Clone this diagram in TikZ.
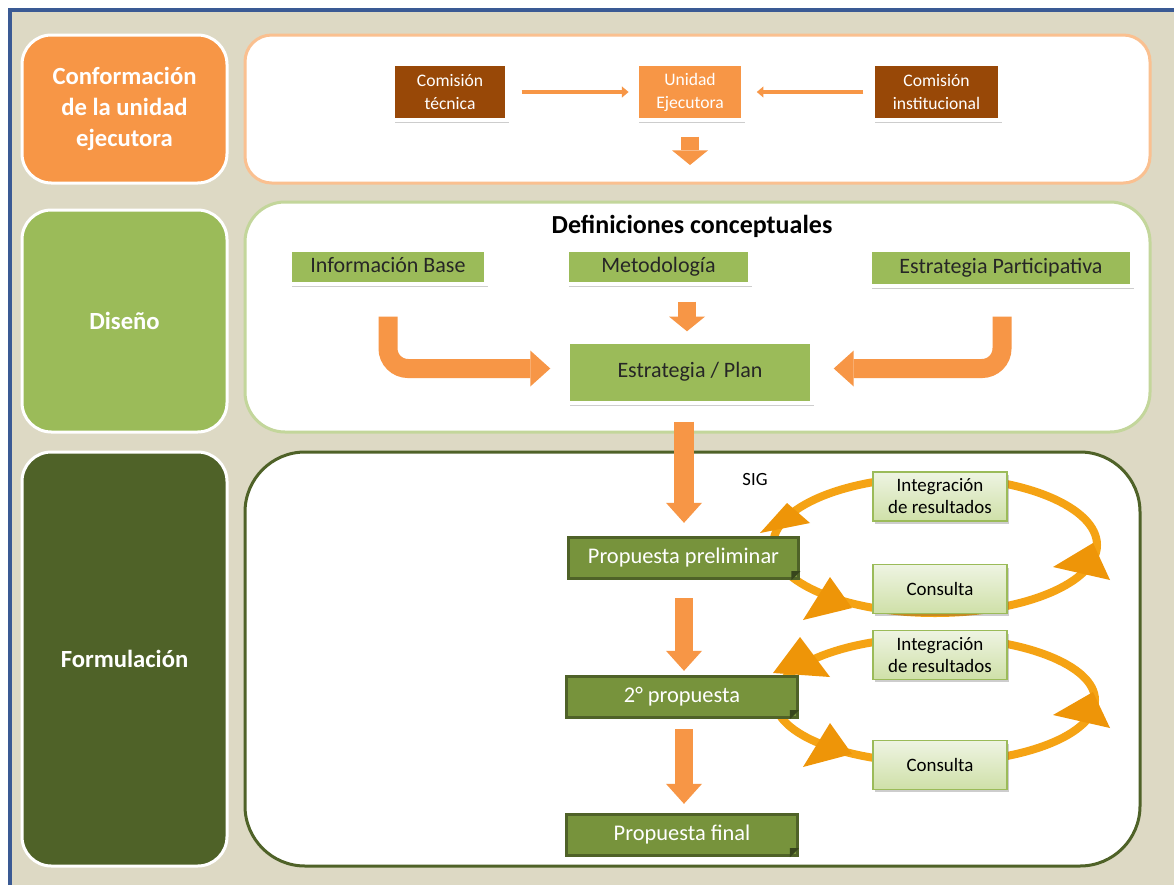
\documentclass[tikz,border=0pt]{standalone}
\usepackage{fontspec}
\setmainfont{Carlito}
\usetikzlibrary{arrows.meta,shadows,calc}
\definecolor{cbeige}{HTML}{DDD9C4}
\definecolor{cblue}{HTML}{3A5A94}
\definecolor{corange}{HTML}{F79646}
\definecolor{clorange}{HTML}{FAC090}
\definecolor{cbrown}{HTML}{984807}
\definecolor{cgreen}{HTML}{9BBB59}
\definecolor{clgreen}{HTML}{C3D69B}
\definecolor{cdark}{HTML}{4F6228}
\definecolor{colive}{HTML}{77933C}
\definecolor{ccyc}{HTML}{F5A314}
\definecolor{ccych}{HTML}{EE9508}
\definecolor{cpale}{HTML}{EEF4E2}
\definecolor{cpale2}{HTML}{CFE0A8}
\begin{document}
\begin{tikzpicture}[x=0.75pt,y=-0.75pt,
  lbl/.style={rounded corners=22pt, fill=#1, draw=white, line width=2.25pt, text=white,
    font=\fontsize{18.5}{23.25}\selectfont\bfseries, align=center,
    minimum width=153.75pt, inner sep=0pt},
  panel/.style={fill=white, draw=#1, line width=2.25pt},
  shad/.style={drop shadow={opacity=0.28, shadow xshift=1.2pt, shadow yshift=-2.2pt, fill=black!70}},
  topbox/.style={fill=#1, draw=white, line width=2.6pt, text=white, shad,
    font=\fontsize{13.2}{17.25}\selectfont, align=center, minimum height=42pt, inner sep=0pt},
  greenbox/.style={fill=cgreen, draw=white, line width=2.6pt, text=black!85, shad,
    font=\fontsize{16.5}{20}\selectfont, inner sep=0pt, text height=11pt, text depth=3.5pt},
  propbox/.style={fill=colive, draw=cdark, line width=2.25pt, text=white,
    font=\fontsize{16.8}{20}\selectfont, minimum width=173pt, minimum height=31pt, inner sep=0pt,
    text height=11pt, text depth=3.5pt},
  cycbox/.style={top color=cpale, bottom color=cpale2, draw=cgreen, line width=1.2pt, shad,
    font=\fontsize{14.2}{16.5}\selectfont, align=center, minimum width=100.5pt,
    minimum height=36.5pt, inner sep=0pt},
  thinarrow/.style={draw=corange, line width=3pt, -{Triangle[length=5pt,width=8pt]}},
  blockarrow/.style={draw=corange, line width=#1, -{Triangle[length=15pt,width=27pt,line width=0pt]}},
  smallarrow/.style={draw=corange, line width=#1, -{Triangle[length=11pt,width=27pt,line width=0pt]}},
  cycline/.style={draw=ccyc, line width=6pt},
  fold/.style={fill=cdark!70!black}
]
\useasboundingbox (0,0) rectangle (1174,885);
% background
\fill[white] (0,0) rectangle (1174,885);
\fill[cbeige] (10,10) rectangle (1174,885);
\draw[cblue, line width=2.5pt] (10,885) -- (10,10) -- (1174,10);

% left labels
\node[lbl=corange, minimum height=111pt] (l1) at (124.5,109) {Conformación\\de la unidad\\ejecutora};
\node[lbl=cgreen, minimum height=166.5pt] (l2) at (124.5,321) {Diseño};
\node[lbl=cdark, minimum height=310.5pt] (l3) at (124.5,659) {Formulación};

% right panels
\draw[panel=clorange, rounded corners=20pt] (245,35) rectangle (1150,183);
\draw[panel=clgreen, rounded corners=30pt] (245,202) rectangle (1150,432);
\draw[panel=cdark, rounded corners=45pt] (245,452) rectangle (1140,866);

% top panel
\node[topbox=cbrown, minimum width=85.5pt] (ct) at (450,92) {Comisión\\técnica};
\node[topbox=corange, minimum width=79.5pt] (ue) at (690,92) {Unidad\\Ejecutora};
\node[topbox=cbrown, minimum width=95.25pt] (ci) at (936.5,92) {Comisión\\institucional};
\draw[thinarrow, shorten <=9.75pt, shorten >=5pt] (ct) -- (ue);
\draw[thinarrow, shorten <=6pt, shorten >=9pt] (ci) -- (ue);
\coordinate (ueend) at (690,165);
\draw[smallarrow=13.5pt, shorten <=11.25pt] (ue.south) -- (ueend);

% middle panel
\node[font=\fontsize{19.5}{23}\selectfont\bfseries, text=black] (def) at (692,226) {Definiciones conceptuales};
\node[greenbox, minimum width=147pt, minimum height=25.5pt] (inf) at (388,267) {Información Base};
\node[greenbox, minimum width=137.25pt, minimum height=25.5pt] (met) at (658.5,267) {Metodología};
\node[greenbox, minimum width=196.5pt, minimum height=27pt] (ep) at (1001,268) {Estrategia Participativa};
\node[greenbox, minimum width=183pt, minimum height=45.75pt] (est) at (690,372.5) {Estrategia / Plan};
\draw[smallarrow=13.5pt, shorten <=12pt, shorten >=6.75pt] (met.south -| 687,0) -- (est.north -| 687,0);
\draw[blockarrow=14.25pt, shorten <=23.25pt, rounded corners=15pt] (inf.south) |- ($(est.west)+(-16,-4)$);
\draw[blockarrow=14.25pt, shorten <=21.75pt, rounded corners=15pt] (1002,0 |- ep.south) |- ($(est.east)+(20,-4)$);

% bottom panel: cycles
\draw[cycline] (935,545) ellipse [x radius=121.5pt, y radius=51pt];
\fill[ccych] (760,533) -- (787,503) -- (810,523) -- cycle;
\fill[ccych] (830,577) -- (803,620) -- (852,608) -- cycle;
\fill[ccych] (1053,567) -- (1093,543) -- (1110,580) -- cycle;
\draw[cycline] (935,700) ellipse [x radius=120pt, y radius=47pt];
\fill[ccych] (800,637) -- (773,673) -- (830,677) -- cycle;
\fill[ccych] (830,723) -- (803,767) -- (852,754) -- cycle;
\fill[ccych] (1053,715) -- (1093,692) -- (1110,728) -- cycle;

\node[cycbox] (int1) at (940,496.5) {Integración\\de resultados};
\node[cycbox] (con1) at (940,589) {Consulta};
\node[cycbox] (int2) at (940,655) {Integración\\de resultados};
\node[cycbox] (con2) at (940,765) {Consulta};
\node[font=\fontsize{14}{16}\selectfont, text=black] (sig) at (755,480) {SIG};

\node[propbox] (pp) at (683.5,558) {Propuesta preliminar};
\node[propbox] (p2) at (682,697) {2° propuesta};
\node[propbox] (pf) at (682,835) {Propuesta final};
\foreach \b in {pp,p2,pf}{
  \fill[fold] ($(\b.south east)+(-9,0)$) -- ($(\b.south east)+(0,-9)$) -- ($(\b.south east)+(-9,-9)$) -- cycle;
}
\draw[blockarrow=15pt, shorten <=12.75pt, shorten >=9.75pt] (est.south -| 684,0) -- (pp.north -| 684,0);
\draw[blockarrow=13.5pt, shorten <=13.5pt, shorten >=3pt] (pp.south -| 684,0) -- (p2.north -| 684,0);
\draw[blockarrow=13.5pt, shorten <=7.5pt, shorten >=6.75pt] (p2.south -| 684,0) -- (pf.north -| 684,0);
\end{tikzpicture}
\end{document}
